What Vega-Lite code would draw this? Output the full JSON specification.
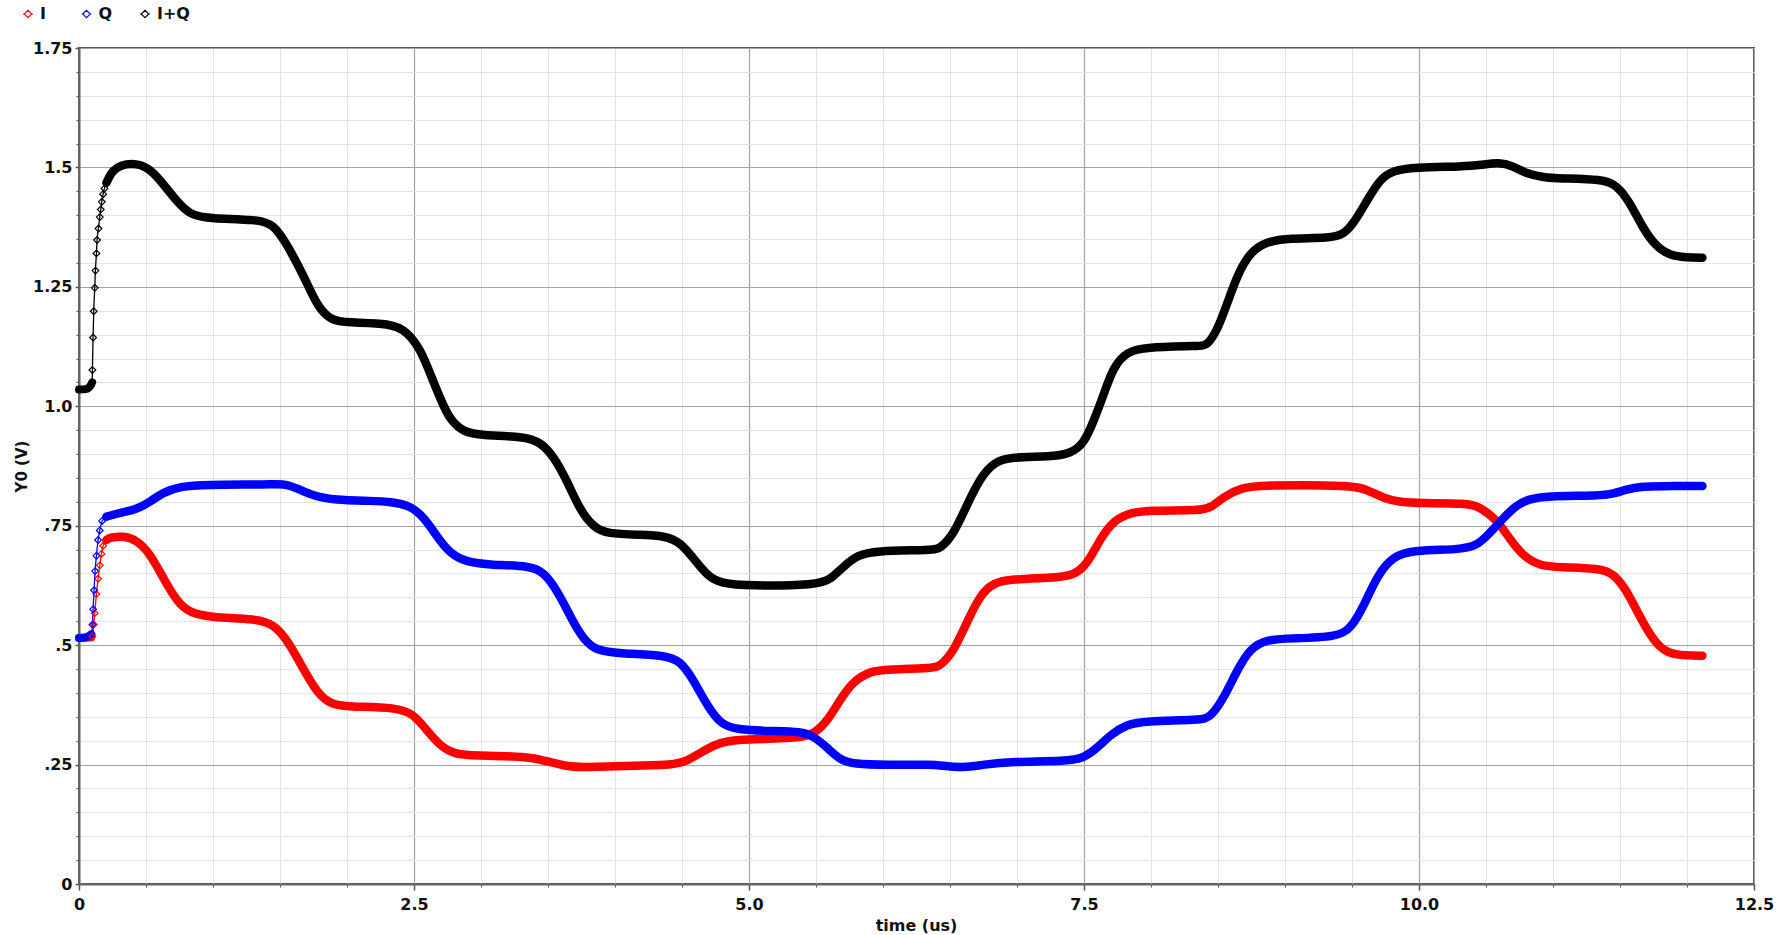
{
  "$schema": "https://vega.github.io/schema/vega-lite/v6.json",
  "width": 1675,
  "height": 836,
  "autosize": {"type": "none"},
  "padding": {"left": 79, "top": 48, "right": 37, "bottom": 51},
  "background": "white",
  "data": {
    "values": [
      {"series": "I", "time": 0, "value": 0.515},
      {"series": "I", "time": 0.05, "value": 0.516},
      {"series": "I", "time": 0.09, "value": 0.516},
      {"series": "I", "time": 0.1, "value": 0.518},
      {"series": "I", "time": 0.11, "value": 0.543},
      {"series": "I", "time": 0.1175, "value": 0.567},
      {"series": "I", "time": 0.13, "value": 0.607},
      {"series": "I", "time": 0.1425, "value": 0.639},
      {"series": "I", "time": 0.155, "value": 0.667},
      {"series": "I", "time": 0.1675, "value": 0.691},
      {"series": "I", "time": 0.18, "value": 0.708},
      {"series": "I", "time": 0.205, "value": 0.72},
      {"series": "I", "time": 0.23, "value": 0.725},
      {"series": "I", "time": 0.33, "value": 0.729},
      {"series": "I", "time": 0.43, "value": 0.72},
      {"series": "I", "time": 0.53, "value": 0.692},
      {"series": "I", "time": 0.63, "value": 0.64},
      {"series": "I", "time": 0.73, "value": 0.591},
      {"series": "I", "time": 0.83, "value": 0.567},
      {"series": "I", "time": 0.98, "value": 0.558},
      {"series": "I", "time": 1.33, "value": 0.555},
      {"series": "I", "time": 1.455, "value": 0.543},
      {"series": "I", "time": 1.555, "value": 0.511},
      {"series": "I", "time": 1.68, "value": 0.447},
      {"series": "I", "time": 1.78, "value": 0.399},
      {"series": "I", "time": 1.88, "value": 0.376},
      {"series": "I", "time": 2.0, "value": 0.371},
      {"series": "I", "time": 2.375, "value": 0.37},
      {"series": "I", "time": 2.5, "value": 0.355},
      {"series": "I", "time": 2.6, "value": 0.32},
      {"series": "I", "time": 2.7, "value": 0.288},
      {"series": "I", "time": 2.8, "value": 0.272},
      {"series": "I", "time": 2.95, "value": 0.269},
      {"series": "I", "time": 3.345, "value": 0.267},
      {"series": "I", "time": 3.495, "value": 0.257},
      {"series": "I", "time": 3.645, "value": 0.246},
      {"series": "I", "time": 3.74, "value": 0.244},
      {"series": "I", "time": 4.19, "value": 0.248},
      {"series": "I", "time": 4.415, "value": 0.249},
      {"series": "I", "time": 4.54, "value": 0.257},
      {"series": "I", "time": 4.66, "value": 0.279},
      {"series": "I", "time": 4.79, "value": 0.297},
      {"series": "I", "time": 4.91, "value": 0.302},
      {"series": "I", "time": 5.16, "value": 0.304},
      {"series": "I", "time": 5.39, "value": 0.307},
      {"series": "I", "time": 5.485, "value": 0.314},
      {"series": "I", "time": 5.585, "value": 0.341},
      {"series": "I", "time": 5.68, "value": 0.386},
      {"series": "I", "time": 5.78, "value": 0.425},
      {"series": "I", "time": 5.91, "value": 0.446},
      {"series": "I", "time": 6.03, "value": 0.449},
      {"series": "I", "time": 6.38, "value": 0.452},
      {"series": "I", "time": 6.43, "value": 0.457},
      {"series": "I", "time": 6.53, "value": 0.488},
      {"series": "I", "time": 6.63, "value": 0.551},
      {"series": "I", "time": 6.73, "value": 0.607},
      {"series": "I", "time": 6.83, "value": 0.631},
      {"series": "I", "time": 6.95, "value": 0.638},
      {"series": "I", "time": 7.25, "value": 0.641},
      {"series": "I", "time": 7.425, "value": 0.645},
      {"series": "I", "time": 7.525, "value": 0.67},
      {"series": "I", "time": 7.62, "value": 0.722},
      {"series": "I", "time": 7.72, "value": 0.761},
      {"series": "I", "time": 7.85, "value": 0.778},
      {"series": "I", "time": 8.0, "value": 0.782},
      {"series": "I", "time": 8.37, "value": 0.782},
      {"series": "I", "time": 8.445, "value": 0.787},
      {"series": "I", "time": 8.545, "value": 0.811},
      {"series": "I", "time": 8.67, "value": 0.829},
      {"series": "I", "time": 8.82, "value": 0.835},
      {"series": "I", "time": 9.515, "value": 0.835},
      {"series": "I", "time": 9.615, "value": 0.825},
      {"series": "I", "time": 9.74, "value": 0.807},
      {"series": "I", "time": 9.86, "value": 0.799},
      {"series": "I", "time": 10.01, "value": 0.797},
      {"series": "I", "time": 10.36, "value": 0.797},
      {"series": "I", "time": 10.45, "value": 0.79},
      {"series": "I", "time": 10.58, "value": 0.763},
      {"series": "I", "time": 10.68, "value": 0.721},
      {"series": "I", "time": 10.78, "value": 0.686},
      {"series": "I", "time": 10.9, "value": 0.666},
      {"series": "I", "time": 11.05, "value": 0.663},
      {"series": "I", "time": 11.35, "value": 0.661},
      {"series": "I", "time": 11.45, "value": 0.65},
      {"series": "I", "time": 11.55, "value": 0.615},
      {"series": "I", "time": 11.65, "value": 0.558},
      {"series": "I", "time": 11.75, "value": 0.509},
      {"series": "I", "time": 11.85, "value": 0.482},
      {"series": "I", "time": 12.0, "value": 0.478},
      {"series": "I", "time": 12.115, "value": 0.478},

      {"series": "Q", "time": 0, "value": 0.515},
      {"series": "Q", "time": 0.05, "value": 0.516},
      {"series": "Q", "time": 0.0925, "value": 0.523},
      {"series": "Q", "time": 0.1, "value": 0.543},
      {"series": "Q", "time": 0.105, "value": 0.575},
      {"series": "Q", "time": 0.1125, "value": 0.615},
      {"series": "Q", "time": 0.12, "value": 0.655},
      {"series": "Q", "time": 0.13, "value": 0.687},
      {"series": "Q", "time": 0.1425, "value": 0.72},
      {"series": "Q", "time": 0.155, "value": 0.74},
      {"series": "Q", "time": 0.1725, "value": 0.76},
      {"series": "Q", "time": 0.205, "value": 0.769},
      {"series": "Q", "time": 0.305, "value": 0.777},
      {"series": "Q", "time": 0.43, "value": 0.784},
      {"series": "Q", "time": 0.53, "value": 0.8},
      {"series": "Q", "time": 0.63, "value": 0.82},
      {"series": "Q", "time": 0.755, "value": 0.832},
      {"series": "Q", "time": 0.93, "value": 0.836},
      {"series": "Q", "time": 1.43, "value": 0.836},
      {"series": "Q", "time": 1.53, "value": 0.838},
      {"series": "Q", "time": 1.63, "value": 0.828},
      {"series": "Q", "time": 1.755, "value": 0.812},
      {"series": "Q", "time": 1.905, "value": 0.804},
      {"series": "Q", "time": 2.18, "value": 0.802},
      {"series": "Q", "time": 2.33, "value": 0.8},
      {"series": "Q", "time": 2.475, "value": 0.792},
      {"series": "Q", "time": 2.575, "value": 0.767},
      {"series": "Q", "time": 2.675, "value": 0.726},
      {"series": "Q", "time": 2.77, "value": 0.691},
      {"series": "Q", "time": 2.9, "value": 0.673},
      {"series": "Q", "time": 3.07, "value": 0.668},
      {"series": "Q", "time": 3.37, "value": 0.666},
      {"series": "Q", "time": 3.47, "value": 0.652},
      {"series": "Q", "time": 3.57, "value": 0.614},
      {"series": "Q", "time": 3.67, "value": 0.558},
      {"series": "Q", "time": 3.77, "value": 0.509},
      {"series": "Q", "time": 3.87, "value": 0.488},
      {"series": "Q", "time": 4.02, "value": 0.483},
      {"series": "Q", "time": 4.37, "value": 0.479},
      {"series": "Q", "time": 4.49, "value": 0.467},
      {"series": "Q", "time": 4.59, "value": 0.425},
      {"series": "Q", "time": 4.69, "value": 0.372},
      {"series": "Q", "time": 4.79, "value": 0.334},
      {"series": "Q", "time": 4.91, "value": 0.323},
      {"series": "Q", "time": 5.16, "value": 0.32},
      {"series": "Q", "time": 5.39, "value": 0.319},
      {"series": "Q", "time": 5.485, "value": 0.309},
      {"series": "Q", "time": 5.585, "value": 0.285},
      {"series": "Q", "time": 5.68, "value": 0.26},
      {"series": "Q", "time": 5.78, "value": 0.251},
      {"series": "Q", "time": 6.03, "value": 0.249},
      {"series": "Q", "time": 6.38, "value": 0.25},
      {"series": "Q", "time": 6.43, "value": 0.248},
      {"series": "Q", "time": 6.6, "value": 0.243},
      {"series": "Q", "time": 6.75, "value": 0.25},
      {"series": "Q", "time": 6.95, "value": 0.256},
      {"series": "Q", "time": 7.375, "value": 0.257},
      {"series": "Q", "time": 7.5, "value": 0.264},
      {"series": "Q", "time": 7.6, "value": 0.285},
      {"series": "Q", "time": 7.7, "value": 0.313},
      {"series": "Q", "time": 7.82, "value": 0.334},
      {"series": "Q", "time": 7.95, "value": 0.341},
      {"series": "Q", "time": 8.37, "value": 0.343},
      {"series": "Q", "time": 8.445, "value": 0.349},
      {"series": "Q", "time": 8.545, "value": 0.39},
      {"series": "Q", "time": 8.64, "value": 0.446},
      {"series": "Q", "time": 8.74, "value": 0.494},
      {"series": "Q", "time": 8.87, "value": 0.512},
      {"series": "Q", "time": 9.04, "value": 0.514},
      {"series": "Q", "time": 9.39, "value": 0.517},
      {"series": "Q", "time": 9.49, "value": 0.534},
      {"series": "Q", "time": 9.59, "value": 0.583},
      {"series": "Q", "time": 9.69, "value": 0.647},
      {"series": "Q", "time": 9.81, "value": 0.687},
      {"series": "Q", "time": 9.96, "value": 0.699},
      {"series": "Q", "time": 10.3, "value": 0.7},
      {"series": "Q", "time": 10.43, "value": 0.707},
      {"series": "Q", "time": 10.53, "value": 0.735},
      {"series": "Q", "time": 10.62, "value": 0.763},
      {"series": "Q", "time": 10.72, "value": 0.792},
      {"series": "Q", "time": 10.82, "value": 0.806},
      {"series": "Q", "time": 10.95, "value": 0.812},
      {"series": "Q", "time": 11.35, "value": 0.813},
      {"series": "Q", "time": 11.45, "value": 0.817},
      {"series": "Q", "time": 11.55, "value": 0.826},
      {"series": "Q", "time": 11.65, "value": 0.832},
      {"series": "Q", "time": 11.8, "value": 0.833},
      {"series": "Q", "time": 12.115, "value": 0.833},

      {"series": "I+Q", "time": 0, "value": 1.035},
      {"series": "I+Q", "time": 0.05, "value": 1.036},
      {"series": "I+Q", "time": 0.09, "value": 1.045},
      {"series": "I+Q", "time": 0.098, "value": 1.05},
      {"series": "I+Q", "time": 0.1, "value": 1.076},
      {"series": "I+Q", "time": 0.105, "value": 1.144},
      {"series": "I+Q", "time": 0.11, "value": 1.199},
      {"series": "I+Q", "time": 0.1175, "value": 1.248},
      {"series": "I+Q", "time": 0.1225, "value": 1.284},
      {"series": "I+Q", "time": 0.13, "value": 1.32},
      {"series": "I+Q", "time": 0.135, "value": 1.348},
      {"series": "I+Q", "time": 0.145, "value": 1.372},
      {"series": "I+Q", "time": 0.155, "value": 1.396},
      {"series": "I+Q", "time": 0.1625, "value": 1.412},
      {"series": "I+Q", "time": 0.17, "value": 1.428},
      {"series": "I+Q", "time": 0.18, "value": 1.444},
      {"series": "I+Q", "time": 0.19, "value": 1.456},
      {"series": "I+Q", "time": 0.205, "value": 1.468},
      {"series": "I+Q", "time": 0.225, "value": 1.48},
      {"series": "I+Q", "time": 0.25, "value": 1.492},
      {"series": "I+Q", "time": 0.305, "value": 1.505},
      {"series": "I+Q", "time": 0.43, "value": 1.509},
      {"series": "I+Q", "time": 0.53, "value": 1.497},
      {"series": "I+Q", "time": 0.63, "value": 1.465},
      {"series": "I+Q", "time": 0.73, "value": 1.429},
      {"series": "I+Q", "time": 0.83, "value": 1.4},
      {"series": "I+Q", "time": 0.98, "value": 1.393},
      {"series": "I+Q", "time": 1.33, "value": 1.391},
      {"series": "I+Q", "time": 1.455, "value": 1.381},
      {"series": "I+Q", "time": 1.555, "value": 1.337},
      {"series": "I+Q", "time": 1.68, "value": 1.272},
      {"series": "I+Q", "time": 1.78, "value": 1.208},
      {"series": "I+Q", "time": 1.88, "value": 1.18},
      {"series": "I+Q", "time": 2.0, "value": 1.175},
      {"series": "I+Q", "time": 2.33, "value": 1.174},
      {"series": "I+Q", "time": 2.45, "value": 1.156},
      {"series": "I+Q", "time": 2.55, "value": 1.118},
      {"series": "I+Q", "time": 2.62, "value": 1.069},
      {"series": "I+Q", "time": 2.7, "value": 1.013},
      {"series": "I+Q", "time": 2.77, "value": 0.971},
      {"series": "I+Q", "time": 2.87, "value": 0.946},
      {"series": "I+Q", "time": 3.0, "value": 0.939},
      {"series": "I+Q", "time": 3.32, "value": 0.937},
      {"series": "I+Q", "time": 3.445, "value": 0.925},
      {"series": "I+Q", "time": 3.545, "value": 0.894},
      {"series": "I+Q", "time": 3.64, "value": 0.845},
      {"series": "I+Q", "time": 3.74, "value": 0.782},
      {"series": "I+Q", "time": 3.84, "value": 0.747},
      {"series": "I+Q", "time": 3.94, "value": 0.733},
      {"series": "I+Q", "time": 4.19, "value": 0.731},
      {"series": "I+Q", "time": 4.37, "value": 0.729},
      {"series": "I+Q", "time": 4.49, "value": 0.715},
      {"series": "I+Q", "time": 4.59, "value": 0.68},
      {"series": "I+Q", "time": 4.69, "value": 0.645},
      {"series": "I+Q", "time": 4.79, "value": 0.629},
      {"series": "I+Q", "time": 5.0, "value": 0.624},
      {"series": "I+Q", "time": 5.51, "value": 0.626},
      {"series": "I+Q", "time": 5.61, "value": 0.638},
      {"series": "I+Q", "time": 5.71, "value": 0.666},
      {"series": "I+Q", "time": 5.81, "value": 0.688},
      {"series": "I+Q", "time": 5.93, "value": 0.6975},
      {"series": "I+Q", "time": 6.38, "value": 0.699},
      {"series": "I+Q", "time": 6.43, "value": 0.703},
      {"series": "I+Q", "time": 6.53, "value": 0.733},
      {"series": "I+Q", "time": 6.63, "value": 0.796},
      {"series": "I+Q", "time": 6.73, "value": 0.852},
      {"series": "I+Q", "time": 6.83, "value": 0.883},
      {"series": "I+Q", "time": 6.95, "value": 0.894},
      {"series": "I+Q", "time": 7.25, "value": 0.894},
      {"series": "I+Q", "time": 7.4, "value": 0.901},
      {"series": "I+Q", "time": 7.5, "value": 0.922},
      {"series": "I+Q", "time": 7.575, "value": 0.971},
      {"series": "I+Q", "time": 7.65, "value": 1.027},
      {"series": "I+Q", "time": 7.72, "value": 1.083},
      {"series": "I+Q", "time": 7.82, "value": 1.114},
      {"series": "I+Q", "time": 7.95, "value": 1.124},
      {"series": "I+Q", "time": 8.37, "value": 1.126},
      {"series": "I+Q", "time": 8.42, "value": 1.128},
      {"series": "I+Q", "time": 8.495, "value": 1.159},
      {"series": "I+Q", "time": 8.57, "value": 1.216},
      {"series": "I+Q", "time": 8.64, "value": 1.272},
      {"series": "I+Q", "time": 8.74, "value": 1.324},
      {"series": "I+Q", "time": 8.87, "value": 1.345},
      {"series": "I+Q", "time": 9.02, "value": 1.352},
      {"series": "I+Q", "time": 9.34, "value": 1.352},
      {"series": "I+Q", "time": 9.44, "value": 1.36},
      {"series": "I+Q", "time": 9.515, "value": 1.384},
      {"series": "I+Q", "time": 9.615, "value": 1.432},
      {"series": "I+Q", "time": 9.71, "value": 1.476},
      {"series": "I+Q", "time": 9.81, "value": 1.494},
      {"series": "I+Q", "time": 9.96, "value": 1.5},
      {"series": "I+Q", "time": 10.34, "value": 1.502},
      {"series": "I+Q", "time": 10.46, "value": 1.505},
      {"series": "I+Q", "time": 10.6, "value": 1.511},
      {"series": "I+Q", "time": 10.7, "value": 1.503},
      {"series": "I+Q", "time": 10.8, "value": 1.487},
      {"series": "I+Q", "time": 10.93, "value": 1.479},
      {"series": "I+Q", "time": 11.05, "value": 1.477},
      {"series": "I+Q", "time": 11.37, "value": 1.475},
      {"series": "I+Q", "time": 11.47, "value": 1.464},
      {"series": "I+Q", "time": 11.57, "value": 1.429},
      {"series": "I+Q", "time": 11.67, "value": 1.373},
      {"series": "I+Q", "time": 11.77, "value": 1.334},
      {"series": "I+Q", "time": 11.87, "value": 1.316},
      {"series": "I+Q", "time": 11.995, "value": 1.311},
      {"series": "I+Q", "time": 12.115, "value": 1.311}
    ]
  },
  "layer": [
    {
      "transform": [{"filter": "datum.time <= 0.3"}],
      "mark": {"type": "line", "strokeWidth": 1.3, "interpolate": "monotone"},
      "encoding": {
        "x": {
          "field": "time", "type": "quantitative",
          "scale": {"domain": [0, 12.5], "nice": false, "zero": false},
          "axis": {
            "orient": "bottom", "title": null, "labels": false, "domain": false,
            "values": [0, 0.5, 1, 1.5, 2, 2.5, 3, 3.5, 4, 4.5, 5, 5.5, 6, 6.5, 7, 7.5, 8, 8.5, 9, 9.5, 10, 10.5, 11, 11.5, 12, 12.5],
            "grid": true, "gridColor": "#e3e3e3", "gridWidth": 1,
            "ticks": true, "tickSize": 3, "tickColor": "#555555", "tickWidth": 1
          }
        },
        "y": {
          "field": "value", "type": "quantitative",
          "scale": {"domain": [0, 1.75], "nice": false, "zero": false},
          "axis": {
            "orient": "left", "title": null, "labels": false, "domain": false,
            "values": [0, 0.05, 0.1, 0.15, 0.2, 0.25, 0.3, 0.35, 0.4, 0.45, 0.5, 0.55, 0.6, 0.65, 0.7, 0.75, 0.8, 0.85, 0.9, 0.95, 1, 1.05, 1.1, 1.15, 1.2, 1.25, 1.3, 1.35, 1.4, 1.45, 1.5, 1.55, 1.6, 1.65, 1.7, 1.75],
            "grid": true, "gridColor": "#e3e3e3", "gridWidth": 1,
            "ticks": true, "tickSize": 3, "tickColor": "#555555", "tickWidth": 1
          }
        },
        "color": {
          "field": "series", "type": "nominal",
          "scale": {"domain": ["I", "Q", "I+Q"], "range": ["#ff0000", "#0000ff", "#000000"]},
          "legend": {
            "orient": "none", "legendX": -59, "legendY": -42,
            "direction": "horizontal", "columns": 3, "gridAlign": "all",
            "title": null, "padding": 0, "columnPadding": 5.5,
            "symbolType": "M-1,0L-0.75,0M0.75,0L1,0M-0.75,0L0,-0.75L0.75,0L0,0.75Z",
            "symbolSize": 100, "symbolStrokeWidth": 1.1,
            "labelOffset": 4, "labelFont": "DejaVu Sans", "labelFontSize": 16,
            "labelFontWeight": "bold", "labelColor": "#111111",
            "encode": {"symbols": {"update": {"fill": {"value": "white"}, "fillOpacity": {"value": 1}}}}
          }
        }
      }
    },
    {
      "transform": [{"filter": "datum.time < 0.1"}],
      "mark": {"type": "line", "strokeWidth": 8, "interpolate": "monotone", "strokeCap": "round", "strokeJoin": "round"},
      "encoding": {
        "x": {
          "field": "time", "type": "quantitative",
          "axis": {
            "orient": "bottom",
            "values": [0, 2.5, 5, 7.5, 10, 12.5],
            "labelExpr": "datum.value == 0 ? '0' : format(datum.value, '.1f')",
            "grid": true, "gridColor": "#a3a3a3", "gridWidth": 1.2,
            "domain": true, "domainColor": "#666666", "domainWidth": 2,
            "ticks": true, "tickSize": 6, "tickColor": "#555555", "tickWidth": 1.5,
            "labelPadding": 6, "labelFlush": false,
            "title": "time (us)", "titleFontSize": 16, "titleX": 837, "titleY": 46,
            "titleBaseline": "alphabetic", "titleAlign": "center"
          }
        },
        "y": {
          "field": "value", "type": "quantitative",
          "axis": {
            "orient": "left",
            "values": [0, 0.25, 0.5, 0.75, 1, 1.25, 1.5, 1.75],
            "labelExpr": "datum.value == 0 ? '0' : datum.value == 1 ? '1.0' : datum.value < 1 ? replace(format(datum.value, '.2~f'), '0.', '.') : format(datum.value, '.2~f')",
            "grid": true, "gridColor": "#a3a3a3", "gridWidth": 1.2,
            "domain": true, "domainColor": "#666666", "domainWidth": 2,
            "ticks": true, "tickSize": 4, "tickColor": "#555555", "tickWidth": 1.5,
            "labelPadding": 3, "labelFlush": false,
            "title": "Y0 (V)", "titleFontSize": 15, "titleAngle": -90,
            "titleX": -53, "titleY": 418, "titleBaseline": "alphabetic", "titleAlign": "center"
          }
        },
        "color": {"field": "series", "type": "nominal", "legend": null}
      }
    },
    {
      "transform": [{"filter": "datum.time >= 0.2"}],
      "mark": {"type": "line", "strokeWidth": 8.5, "interpolate": "basis", "strokeCap": "round", "strokeJoin": "round"},
      "encoding": {
        "x": {"field": "time", "type": "quantitative", "axis": null},
        "y": {"field": "value", "type": "quantitative", "axis": null},
        "color": {"field": "series", "type": "nominal", "legend": null}
      }
    },
    {
      "transform": [{"filter": "datum.time > 0.095 && datum.time < 0.21"}],
      "mark": {"type": "point", "shape": "diamond", "filled": false, "size": 45, "strokeWidth": 1.2, "opacity": 1},
      "encoding": {
        "x": {"field": "time", "type": "quantitative", "axis": null},
        "y": {"field": "value", "type": "quantitative", "axis": null},
        "color": {"field": "series", "type": "nominal", "legend": null}
      }
    }
  ],
  "resolve": {"axis": {"x": "independent", "y": "independent"}},
  "config": {
    "font": "DejaVu Sans",
    "view": {"stroke": "#555555", "strokeWidth": 2},
    "axis": {
      "labelFont": "DejaVu Sans", "labelFontSize": 16, "labelFontWeight": "bold", "labelColor": "#111111",
      "titleFont": "DejaVu Sans", "titleFontWeight": "bold", "titleColor": "#111111"
    }
  }
}
